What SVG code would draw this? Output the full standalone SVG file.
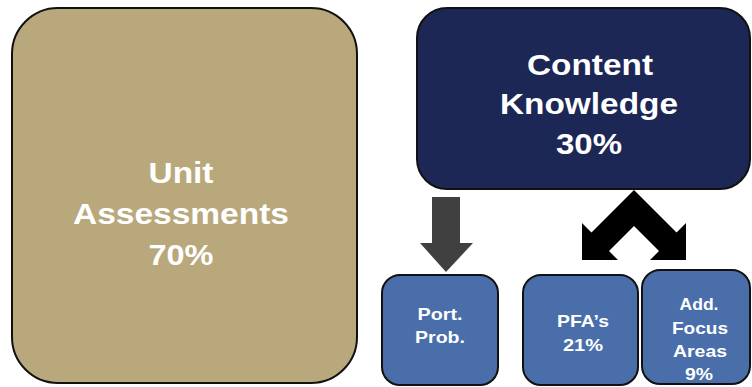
<svg xmlns="http://www.w3.org/2000/svg" width="752" height="387" viewBox="0 0 752 387">
<style>
.box{stroke:#111;stroke-width:2}
.t{font-family:"Liberation Sans",Arial,sans-serif;font-weight:bold;fill:#fff;text-anchor:middle}
.big{font-size:30px}
.sm{font-size:17px}
</style>
<rect width="752" height="387" fill="#fff"/>
<g id="unit-assessments">
<rect class="box" x="12" y="8" width="345" height="375" rx="46" fill="#B9A87C"/>
<text class="t big" x="181" y="183" textLength="65" lengthAdjust="spacingAndGlyphs">Unit</text>
<text class="t big" x="181" y="224" textLength="216" lengthAdjust="spacingAndGlyphs">Assessments</text>
<text class="t big" x="181" y="265" textLength="65" lengthAdjust="spacingAndGlyphs">70%</text>
</g>
<g id="content-knowledge">
<rect class="box" x="417" y="8" width="333" height="181" rx="30" fill="#1C2756"/>
<text class="t big" x="590" y="75" textLength="126" lengthAdjust="spacingAndGlyphs">Content</text>
<text class="t big" x="589" y="114" textLength="178" lengthAdjust="spacingAndGlyphs">Knowledge</text>
<text class="t big" x="589" y="154" textLength="66" lengthAdjust="spacingAndGlyphs">30%</text>
</g>
<g id="port-prob">
<rect class="box" x="382" y="275" width="116" height="110" rx="18" fill="#4A6EAA"/>
<text class="t sm" x="440" y="320" textLength="45" lengthAdjust="spacingAndGlyphs">Port.</text>
<text class="t sm" x="440" y="343" textLength="50" lengthAdjust="spacingAndGlyphs">Prob.</text>
</g>
<g id="pfas">
<rect class="box" x="523" y="275" width="115" height="110" rx="18" fill="#4A6EAA"/>
<text class="t sm" x="583" y="327" textLength="52" lengthAdjust="spacingAndGlyphs">PFA’s</text>
<text class="t sm" x="583" y="351" textLength="40" lengthAdjust="spacingAndGlyphs">21%</text>
</g>
<g id="add-focus">
<rect class="box" x="642" y="270" width="108" height="114" rx="18" fill="#4A6EAA"/>
<text class="t sm" x="699" y="310" textLength="39" lengthAdjust="spacingAndGlyphs">Add.</text>
<text class="t sm" x="700" y="334" textLength="56" lengthAdjust="spacingAndGlyphs">Focus</text>
<text class="t sm" x="700" y="357" textLength="54" lengthAdjust="spacingAndGlyphs">Areas</text>
<text class="t sm" x="699" y="380" textLength="28" lengthAdjust="spacingAndGlyphs">9%</text>
</g>
<g id="connectors">
<polygon points="432,197 460,197 460,243 473,243 446,272 420,243 432,243" fill="#404040"/>
<polygon points="634,190 676.5,232.5 686,223 686,260 650,260 659,251 634,226 609,251 618,260 582,260 582,223 591.5,232.5" fill="#000"/>
</g>
</svg>
